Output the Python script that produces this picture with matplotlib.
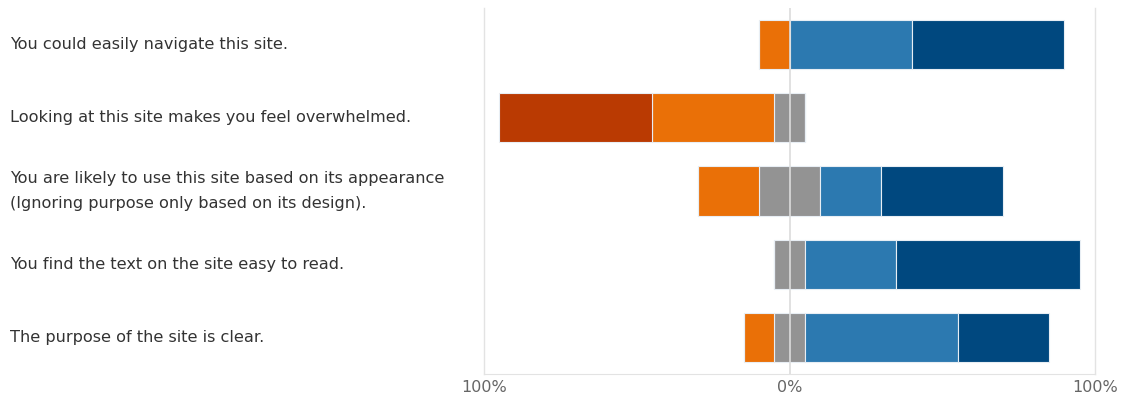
import numpy as np
import matplotlib.pyplot as plt
from matplotlib.transforms import blended_transform_factory

questions = [
    "You could easily navigate this site.",
    "Looking at this site makes you feel overwhelmed.",
    "You are likely to use this site based on its appearance\n(Ignoring purpose only based on its design).",
    "You find the text on the site easy to read.",
    "The purpose of the site is clear.",
]
# percent of answers per level
strongly_disagree = [0, 50, 0, 0, 0]
disagree = [10, 40, 20, 0, 10]
neutral = [0, 10, 20, 10, 10]
agree = [40, 0, 20, 30, 50]
strongly_agree = [50, 0, 40, 60, 30]

colors = ["#BA3A02", "#EA7007", "#939393", "#2C79B0", "#00487F"]

sd = np.array(strongly_disagree, float)
d = np.array(disagree, float)
n = np.array(neutral, float)
a = np.array(agree, float)
sa = np.array(strongly_agree, float)

fig = plt.figure(figsize=(11.34, 4.01), dpi=100)
ax = fig.add_axes([484 / 1134, 1 - 374 / 401, (1095 - 484) / 1134, (374 - 8) / 401])

y = np.arange(len(questions))
h = 0.67
edge = dict(edgecolor="#e8eef4", linewidth=0.8, height=h)

# negative side, built from the centre outward
start_n = -n / 2
ax.barh(y, n, left=start_n, color=colors[2], **edge)
ax.barh(y, d, left=start_n - d, color=colors[1], **edge)
ax.barh(y, sd, left=start_n - d - sd, color=colors[0], **edge)
# positive side
ax.barh(y, a, left=n / 2, color=colors[3], **edge)
ax.barh(y, sa, left=n / 2 + a, color=colors[4], **edge)

ax.set_xlim(-100, 100)
ax.set_ylim(len(questions) - 0.5, -0.5)

for xv in [-100, 100]:
    ax.axvline(xv, color="#e3e3e3", linewidth=1, zorder=0, clip_on=False)
ax.axvline(0, color="#dcdcdc", linewidth=1.2, zorder=5)

for s in ["top", "left", "right"]:
    ax.spines[s].set_visible(False)
ax.spines["bottom"].set_color("#e3e3e3")
ax.set_yticks([])
ax.set_xticks([-100, 0, 100])
ax.set_xticklabels(["100%", "0%", "100%"], color="#666666", fontsize=11.5)
ax.tick_params(axis="x", length=0, pad=4)

trans = blended_transform_factory(fig.transFigure, ax.transData)
for yi, q in zip(y, questions):
    ax.text(10 / 1134, yi, q, transform=trans, ha="left", va="center",
            fontsize=11.6, color="#333333", linespacing=1.9)

fig.savefig("out.png", dpi=100)
